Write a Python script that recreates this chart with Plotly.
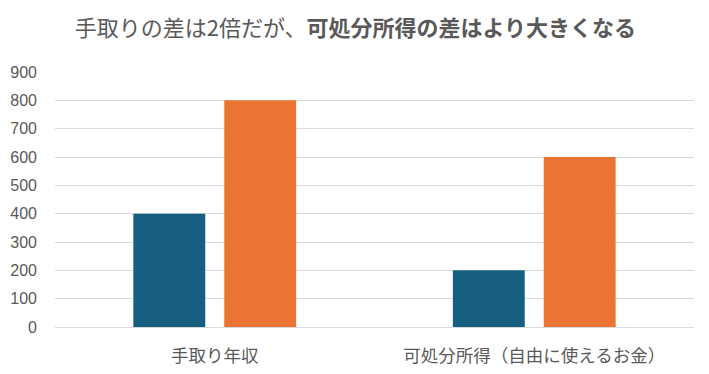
import plotly.graph_objects as go

categories = ["手取り年収", "可処分所得（自由に使えるお金）"]
series_a = [400, 200]
series_b = [800, 600]
y_ticks = [0, 100, 200, 300, 400, 500, 600, 700, 800, 900]

fig = go.Figure()
fig.add_trace(go.Bar(x=categories, y=series_a, marker_color="#175F80", marker_line_width=0, name="A"))
fig.add_trace(go.Bar(x=categories, y=series_b, marker_color="#E97434", marker_line_width=0, name="B"))

fig.update_layout(
    width=709, height=374,
    margin=dict(l=47, r=22.5, t=64, b=55, autoexpand=False),
    paper_bgcolor="white", plot_bgcolor="white",
    barmode="group", bargap=0.431, bargroupgap=0.209,
    showlegend=False,
    font=dict(family="Liberation Sans, Arial, Noto Sans CJK JP", color="#595959"),
    title=dict(
        text="手取りの差は2倍だが、<b>可処分所得の差はより大きくなる</b>",
        x=0.49, xanchor="center", y=0.9465, yanchor="middle",
        font=dict(family="Noto Sans CJK JP", size=22, color="#595959"),
    ),
)
fig.update_yaxes(
    range=[0, 900], tickvals=y_ticks, showgrid=True, gridcolor="#D9D9D9", gridwidth=1,
    zeroline=True, zerolinecolor="#D9D9D9", zerolinewidth=1, showline=False,
    tickfont=dict(size=16, family="Liberation Sans, Arial", color="#595959"),
    ticklabelstandoff=17, automargin=False,
)
fig.update_xaxes(
    showgrid=False, showline=False, automargin=False, ticklabelstandoff=16,
    tickfont=dict(size=17.5, family="Noto Sans CJK JP", color="#595959"),
)
fig.write_html("out.html")
